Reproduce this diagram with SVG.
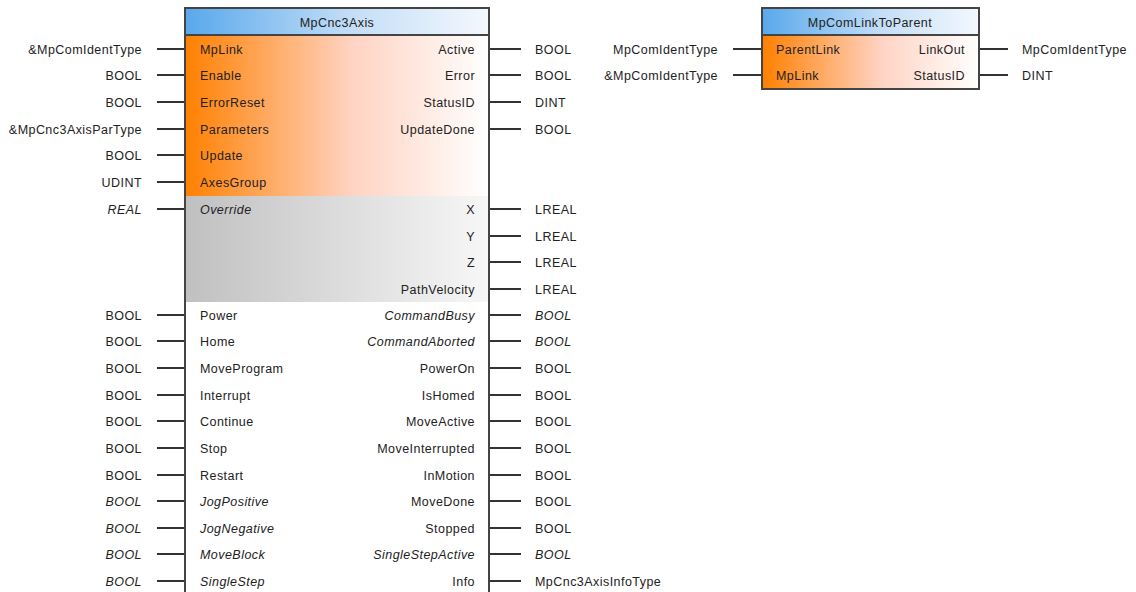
<svg xmlns="http://www.w3.org/2000/svg" width="1136" height="592" viewBox="0 0 1136 592">
<style>
text{font-family:"Liberation Sans",Arial,sans-serif;font-size:12.5px;letter-spacing:0.45px;fill:#222}
.r{text-anchor:end}
.i{font-style:italic}
.h{text-anchor:middle}
.w line{stroke:#333;stroke-width:2}
.box{fill:none;stroke:#444;stroke-width:2}
</style>
<defs>
<linearGradient id="hdr" x1="0" x2="1" y1="0" y2="0"><stop offset="0" stop-color="#58a8ec"/><stop offset="0.55" stop-color="#c4def7"/><stop offset="1" stop-color="#f4f8fe"/></linearGradient>
<linearGradient id="org" x1="0" x2="1" y1="0" y2="0"><stop offset="0" stop-color="#ff8000"/><stop offset="0.55" stop-color="#ffd3c3"/><stop offset="1" stop-color="#ffffff"/></linearGradient>
<linearGradient id="gry" x1="0" x2="1" y1="0" y2="0"><stop offset="0" stop-color="#c0c0c0"/><stop offset="1" stop-color="#f7f7f7"/></linearGradient>
</defs>
<g id="connectors" class="w">
<line x1="157" y1="49" x2="185" y2="49"/><line x1="157" y1="75" x2="185" y2="75"/><line x1="157" y1="102" x2="185" y2="102"/><line x1="157" y1="129" x2="185" y2="129"/><line x1="157" y1="155" x2="185" y2="155"/><line x1="157" y1="182" x2="185" y2="182"/><line x1="157" y1="209" x2="185" y2="209"/>
<line x1="157" y1="315" x2="185" y2="315"/><line x1="157" y1="341" x2="185" y2="341"/><line x1="157" y1="368" x2="185" y2="368"/><line x1="157" y1="395" x2="185" y2="395"/><line x1="157" y1="421" x2="185" y2="421"/><line x1="157" y1="448" x2="185" y2="448"/><line x1="157" y1="475" x2="185" y2="475"/><line x1="157" y1="501" x2="185" y2="501"/><line x1="157" y1="528" x2="185" y2="528"/><line x1="157" y1="554" x2="185" y2="554"/><line x1="157" y1="581" x2="185" y2="581"/>
<line x1="489" y1="49" x2="521" y2="49"/><line x1="489" y1="75" x2="521" y2="75"/><line x1="489" y1="102" x2="521" y2="102"/><line x1="489" y1="129" x2="521" y2="129"/>
<line x1="489" y1="209" x2="521" y2="209"/><line x1="489" y1="236" x2="521" y2="236"/><line x1="489" y1="262" x2="521" y2="262"/><line x1="489" y1="289" x2="521" y2="289"/>
<line x1="489" y1="315" x2="521" y2="315"/><line x1="489" y1="341" x2="521" y2="341"/><line x1="489" y1="368" x2="521" y2="368"/><line x1="489" y1="395" x2="521" y2="395"/><line x1="489" y1="421" x2="521" y2="421"/><line x1="489" y1="448" x2="521" y2="448"/><line x1="489" y1="475" x2="521" y2="475"/><line x1="489" y1="501" x2="521" y2="501"/><line x1="489" y1="528" x2="521" y2="528"/><line x1="489" y1="554" x2="521" y2="554"/><line x1="489" y1="581" x2="521" y2="581"/>
<line x1="733" y1="49" x2="762" y2="49"/><line x1="733" y1="75" x2="762" y2="75"/>
<line x1="979" y1="49" x2="1008" y2="49"/><line x1="979" y1="75" x2="1008" y2="75"/>
</g>
<g id="MpCnc3Axis">
<rect x="185" y="8" width="304" height="27" fill="url(#hdr)"/>
<rect x="185" y="35" width="304" height="161" fill="url(#org)"/>
<rect x="185" y="196" width="304" height="106" fill="url(#gry)"/>
<rect x="185" y="302" width="304" height="300" fill="#fff"/>
<line x1="185" y1="35" x2="489" y2="35" stroke="#444" stroke-width="2"/>
<rect x="185" y="8" width="304" height="594" class="box"/>
<text x="337" y="27" class="h">MpCnc3Axis</text>
<text x="200" y="54">MpLink</text><text x="200" y="80">Enable</text><text x="200" y="107">ErrorReset</text><text x="200" y="134">Parameters</text><text x="200" y="160">Update</text><text x="200" y="187">AxesGroup</text>
<text x="200" y="214" class="i">Override</text>
<text x="200" y="320">Power</text><text x="200" y="346">Home</text><text x="200" y="373">MoveProgram</text><text x="200" y="400">Interrupt</text><text x="200" y="426">Continue</text><text x="200" y="453">Stop</text><text x="200" y="480">Restart</text>
<text x="200" y="506" class="i">JogPositive</text><text x="200" y="533" class="i">JogNegative</text><text x="200" y="559" class="i">MoveBlock</text><text x="200" y="586" class="i">SingleStep</text>
<text x="475" y="54" class="r">Active</text><text x="475" y="80" class="r">Error</text><text x="475" y="107" class="r">StatusID</text><text x="475" y="134" class="r">UpdateDone</text>
<text x="475" y="214" class="r">X</text><text x="475" y="241" class="r">Y</text><text x="475" y="267" class="r">Z</text><text x="475" y="294" class="r">PathVelocity</text>
<text x="475" y="320" class="r i">CommandBusy</text><text x="475" y="346" class="r i">CommandAborted</text><text x="475" y="373" class="r">PowerOn</text><text x="475" y="400" class="r">IsHomed</text><text x="475" y="426" class="r">MoveActive</text><text x="475" y="453" class="r">MoveInterrupted</text><text x="475" y="480" class="r">InMotion</text><text x="475" y="506" class="r">MoveDone</text><text x="475" y="533" class="r">Stopped</text><text x="475" y="559" class="r i">SingleStepActive</text><text x="475" y="586" class="r">Info</text>
<text x="142" y="54" class="r">&amp;MpComIdentType</text><text x="142" y="80" class="r">BOOL</text><text x="142" y="107" class="r">BOOL</text><text x="142" y="134" class="r">&amp;MpCnc3AxisParType</text><text x="142" y="160" class="r">BOOL</text><text x="142" y="187" class="r">UDINT</text>
<text x="142" y="214" class="r i">REAL</text>
<text x="142" y="320" class="r">BOOL</text><text x="142" y="346" class="r">BOOL</text><text x="142" y="373" class="r">BOOL</text><text x="142" y="400" class="r">BOOL</text><text x="142" y="426" class="r">BOOL</text><text x="142" y="453" class="r">BOOL</text><text x="142" y="480" class="r">BOOL</text>
<text x="142" y="506" class="r i">BOOL</text><text x="142" y="533" class="r i">BOOL</text><text x="142" y="559" class="r i">BOOL</text><text x="142" y="586" class="r i">BOOL</text>
<text x="535" y="54">BOOL</text><text x="535" y="80">BOOL</text><text x="535" y="107">DINT</text><text x="535" y="134">BOOL</text>
<text x="535" y="214">LREAL</text><text x="535" y="241">LREAL</text><text x="535" y="267">LREAL</text><text x="535" y="294">LREAL</text>
<text x="535" y="320" class="i">BOOL</text><text x="535" y="346" class="i">BOOL</text><text x="535" y="373">BOOL</text><text x="535" y="400">BOOL</text><text x="535" y="426">BOOL</text><text x="535" y="453">BOOL</text><text x="535" y="480">BOOL</text><text x="535" y="506">BOOL</text><text x="535" y="533">BOOL</text><text x="535" y="559" class="i">BOOL</text><text x="535" y="586">MpCnc3AxisInfoType</text>
</g>
<g id="MpComLinkToParent">
<rect x="762" y="8" width="217" height="27" fill="url(#hdr)"/>
<rect x="762" y="35" width="217" height="54" fill="url(#org)"/>
<line x1="762" y1="35" x2="979" y2="35" stroke="#444" stroke-width="2"/>
<rect x="762" y="8" width="217" height="81" class="box"/>
<text x="870" y="27" class="h">MpComLinkToParent</text>
<text x="776" y="54">ParentLink</text><text x="776" y="80">MpLink</text>
<text x="965" y="54" class="r">LinkOut</text><text x="965" y="80" class="r">StatusID</text>
<text x="718" y="54" class="r">MpComIdentType</text><text x="718" y="80" class="r">&amp;MpComIdentType</text>
<text x="1022" y="54">MpComIdentType</text><text x="1022" y="80">DINT</text>
</g>
</svg>
